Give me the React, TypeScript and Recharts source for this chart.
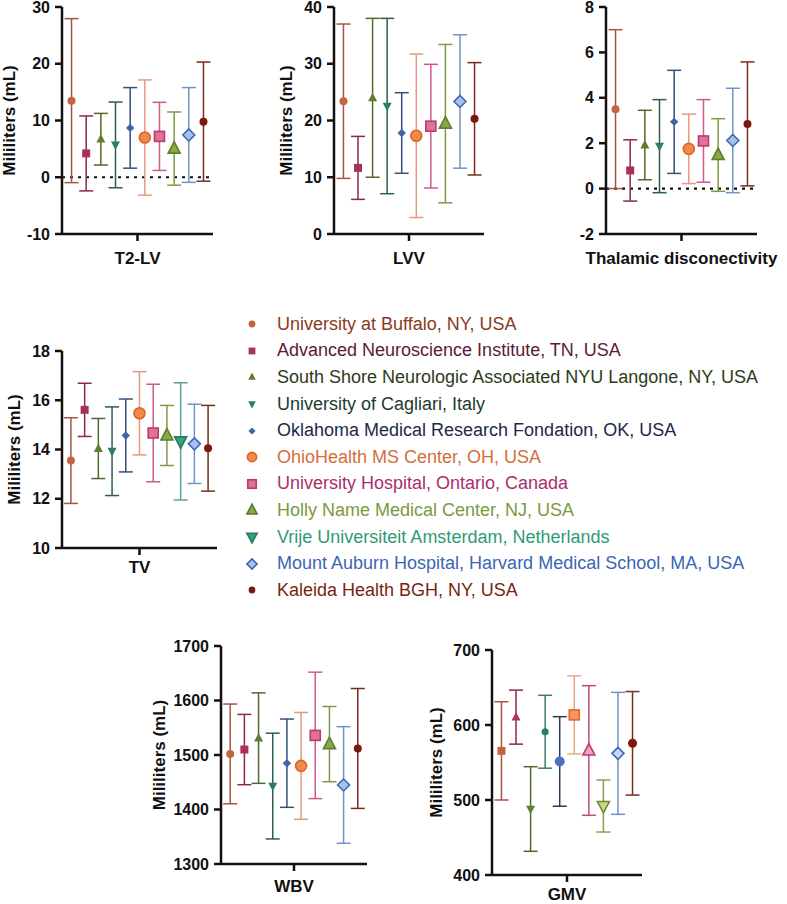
import React from 'react';
import { ScatterChart, Scatter, XAxis, YAxis, ErrorBar, ReferenceLine } from 'recharts';

const SITES = [
  'University at Buffalo, NY, USA',
  'Advanced Neuroscience Institute, TN, USA',
  'South Shore Neurologic Associated NYU Langone, NY, USA',
  'University of Cagliari, Italy',
  'Oklahoma Medical Research Fondation, OK, USA',
  'OhioHealth MS Center, OH, USA',
  'University Hospital, Ontario, Canada',
  'Holly Name Medical Center, NJ, USA',
  'Vrije Universiteit Amsterdam, Netherlands',
  'Mount Auburn Hospital, Harvard Medical School, MA, USA',
  'Kaleida Health BGH, NY, USA',
];

// mean and SD per site (null = site not shown in that panel)
const T2LV_MEAN = [13.5, 4.2, 6.7, 5.7, 8.7, 7.0, 7.2, 5.05, null, 7.45, 9.8];
const T2LV_SD = [14.45, 6.6, 4.55, 7.55, 7.1, 10.15, 6.0, 6.45, null, 8.35, 10.5];

const LVV_MEAN = [23.4, 11.65, 24.0, 22.55, 17.8, 17.3, 19.0, 19.45, null, 23.35, 20.3];
const LVV_SD = [13.6, 5.55, 14.0, 15.45, 7.1, 14.4, 10.9, 13.95, null, 11.75, 9.9];

const THAL_MEAN = [3.5, 0.8, 1.92, 1.87, 2.94, 1.75, 2.1, 1.48, null, 2.12, 2.85];
const THAL_SD = [3.5, 1.35, 1.53, 2.05, 2.27, 1.53, 1.82, 1.6, null, 2.3, 2.73];

const TV_MEAN = [13.55, 15.61, 14.04, 13.93, 14.57, 15.47, 14.67, 14.57, 14.33, 14.23, 14.05];
const TV_SD = [1.74, 1.08, 1.22, 1.8, 1.48, 1.69, 1.98, 1.22, 2.38, 1.61, 1.74];

const WBV_MEAN = [1502, 1510, 1531, 1443, 1485, 1480, 1536, 1520, null, 1445, 1512];
const WBV_SD = [91.5, 64.5, 83, 97, 81, 98, 116, 69, null, 107, 110];

const GMV_MEAN = [565.5, 610.5, 488, 591, 551.4, 613.5, 566, 492, 562.2, 575.6];
const GMV_SD = [65.5, 36, 56.4, 48.6, 59.7, 52, 86.4, 34.7, 81.3, 69];

type Mk = { shape: string; r: number; fill: string; stroke?: string; bar: string; text?: string };

const SITE_MARKS: Mk[] = [
  { shape: 'circle', r: 4, fill: '#c4643f', bar: '#a65542', text: '#8b3a22' },
  { shape: 'square', r: 4, fill: '#a8305c', bar: '#8a2a48', text: '#5c1a36' },
  { shape: 'tri', r: 4.5, fill: '#5f7f2e', bar: '#4f6a2a', text: '#2c3c18' },
  { shape: 'down', r: 4.5, fill: '#2b7d66', bar: '#2a5e4e', text: '#1c3c30' },
  { shape: 'diamond', r: 3.5, fill: '#3f64a8', bar: '#33507e', text: '#1c2a48' },
  { shape: 'circle', r: 5.5, fill: '#f08a48', stroke: '#d9652a', bar: '#e29a80', text: '#d36f3a' },
  { shape: 'square', r: 5, fill: '#e0709c', stroke: '#b83c6c', bar: '#cf5a88', text: '#a8306a' },
  { shape: 'tri', r: 6, fill: '#8aa84a', stroke: '#5d7e2a', bar: '#7f9a46', text: '#7a9a3e' },
  { shape: 'down', r: 6, fill: '#3aa084', stroke: '#257a62', bar: '#5aa494', text: '#2f9a78' },
  { shape: 'diamond', r: 5, fill: '#a8c0ea', stroke: '#3a68b8', bar: '#6f92c8', text: '#3a66b4' },
  { shape: 'circle', r: 4, fill: '#7a1a0e', bar: '#7a2a20', text: '#7a1f10' },
];

const GMV_MARKS: Mk[] = [
  { shape: 'square', r: 4, fill: '#c4643f', bar: '#a65542' },
  { shape: 'tri', r: 4.5, fill: '#b0305e', bar: '#8a2a48' },
  { shape: 'down', r: 4.5, fill: '#5f7f2e', bar: '#4f6a2a' },
  { shape: 'circle', r: 3.5, fill: '#2b7d66', bar: '#3a7e6a' },
  { shape: 'circle', r: 5, fill: '#4a72c0', bar: '#2a3a58' },
  { shape: 'square', r: 5, fill: '#f5955a', stroke: '#e0692a', bar: '#e8a888' },
  { shape: 'tri', r: 6, fill: '#f0a0c0', stroke: '#b83c6c', bar: '#c04a78' },
  { shape: 'down', r: 6, fill: '#c8d890', stroke: '#6d8a30', bar: '#8aa050' },
  { shape: 'diamond', r: 5, fill: '#c8d8f0', stroke: '#3a68b8', bar: '#6f92c8' },
  { shape: 'circle', r: 4.5, fill: '#7a1a0e', bar: '#7a2a20' },
];

const PANELS = [
  { name: 'T2-LV', mean: T2LV_MEAN, sd: T2LV_SD, marks: SITE_MARKS, domain: [-10, 30], ticks: [-10, 0, 10, 20, 30], zero: true,
    left: 62, top: 7, right: 213, bottom: 234, ylx: 9, gap: 11 },
  { name: 'LVV', mean: LVV_MEAN, sd: LVV_SD, marks: SITE_MARKS, domain: [0, 40], ticks: [0, 10, 20, 30, 40], zero: false,
    left: 334, top: 7, right: 484, bottom: 234, ylx: 286, gap: 11 },
  { name: 'Thalamic disconectivity', mean: THAL_MEAN, sd: THAL_SD, marks: SITE_MARKS, domain: [-2, 8], ticks: [-2, 0, 2, 4, 6, 8], zero: true,
    left: 606, top: 7, right: 757, bottom: 234, ylx: null, gap: 11 },
  { name: 'TV', mean: TV_MEAN, sd: TV_SD, marks: SITE_MARKS, domain: [10, 18], ticks: [10, 12, 14, 16, 18], zero: false,
    left: 62, top: 351, right: 217, bottom: 548, ylx: 14, gap: 6 },
  { name: 'WBV', mean: WBV_MEAN, sd: WBV_SD, marks: SITE_MARKS, domain: [1300, 1700], ticks: [1300, 1400, 1500, 1600, 1700], zero: false,
    left: 221, top: 646, right: 367, bottom: 864, ylx: 159, gap: 9 },
  { name: 'GMV', mean: GMV_MEAN, sd: GMV_SD, marks: GMV_MARKS, domain: [400, 700], ticks: [400, 500, 600, 700], zero: false,
    left: 492, top: 650, right: 642, bottom: 875, ylx: 436, gap: 6 },
];

const FONT = '"Liberation Sans", Arial, sans-serif';
const Y_W = 78;
const X_H = 40;
const R_M = 30;
const PAD = 0.65;

function Marker({ cx, cy, m }: { cx: number; cy: number; m: Mk }) {
  const { r, fill, stroke } = m;
  const common = { fill, stroke: stroke || 'none', strokeWidth: stroke ? 1.6 : 0 };
  if (m.shape === 'circle') return <circle cx={cx} cy={cy} r={r} {...common} />;
  if (m.shape === 'square') return <rect x={cx - r} y={cy - r} width={2 * r} height={2 * r} {...common} />;
  if (m.shape === 'tri')
    return <polygon points={`${cx},${cy - r * 1.15} ${cx + r},${cy + r * 0.75} ${cx - r},${cy + r * 0.75}`} {...common} />;
  if (m.shape === 'down')
    return <polygon points={`${cx},${cy + r * 1.15} ${cx + r},${cy - r * 0.75} ${cx - r},${cy - r * 0.75}`} {...common} />;
  return <polygon points={`${cx},${cy - r * 1.2} ${cx + r * 1.2},${cy} ${cx},${cy + r * 1.2} ${cx - r * 1.2},${cy}`} {...common} />;
}

function Panel({ p }: { p: (typeof PANELS)[number] }) {
  const pts = p.mean
    .map((m, i) => (m == null ? null : { y: m, sd: p.sd[i] as number, mark: p.marks[i] }))
    .filter((d): d is { y: number; sd: number; mark: Mk } => d !== null);
  const n = pts.length;
  const width = p.right - p.left + Y_W + R_M;
  const height = p.bottom - p.top + 10 + X_H;
  const axisStyle = { stroke: '#111', strokeWidth: 2.5 };
  const tickFont = { fill: '#111', fontSize: 16, fontWeight: 700, fontFamily: FONT };

  return (
    <div style={{ position: 'absolute', left: p.left - Y_W, top: p.top - 10 }}>
      <ScatterChart width={width} height={height} margin={{ top: 10, right: R_M, bottom: 0, left: 0 }}>
        <XAxis
          type="number"
          dataKey="x"
          domain={[-PAD, n - 1 + PAD]}
          ticks={[(n - 1) / 2]}
          allowDataOverflow
          height={X_H}
          axisLine={axisStyle}
          tickLine={axisStyle}
          tickSize={7}
          tickMargin={p.gap}
          tick={(t: any) => (
            <text x={t.x} y={t.y} dy="0.71em" textAnchor="middle" fill="#111" fontSize={17} fontWeight={700} fontFamily={FONT}>
              {p.name}
            </text>
          )}
        />
        <YAxis
          type="number"
          dataKey="y"
          domain={p.domain}
          ticks={p.ticks}
          allowDataOverflow
          width={Y_W}
          axisLine={axisStyle}
          tickLine={axisStyle}
          tickSize={7}
          tickMargin={5}
          tick={tickFont}
          label={
            p.ylx == null
              ? undefined
              : {
                  value: 'Mililiters (mL)',
                  angle: -90,
                  position: 'center',
                  dx: p.ylx - (p.left - Y_W / 2),
                  style: { fill: '#111', fontSize: 17, fontWeight: 700, fontFamily: FONT },
                }
          }
        />
        {p.zero && <ReferenceLine y={0} stroke="#111" strokeWidth={2.2} strokeDasharray="3 5" />}
        {pts.map((d, j) => (
          <Scatter
            key={j}
            data={[{ x: j, y: d.y, sd: d.sd }]}
            isAnimationActive={false}
            shape={(props: any) => <Marker cx={props.cx} cy={props.cy} m={d.mark} />}
          >
            <ErrorBar dataKey="sd" direction="y" width={7} stroke={d.mark.bar} strokeWidth={1.5} isAnimationActive={false} />
          </Scatter>
        ))}
      </ScatterChart>
    </div>
  );
}

function SiteLegend() {
  return (
    <div style={{ position: 'absolute', left: 240, top: 311, fontFamily: FONT, fontSize: 18 }}>
      {SITES.map((s, i) => (
        <div key={s} style={{ display: 'flex', alignItems: 'center', height: 26.6, whiteSpace: 'nowrap' }}>
          <svg width={26} height={20} style={{ marginRight: 11 }}>
            <Marker cx={12} cy={10} m={{ ...SITE_MARKS[i], r: SITE_MARKS[i].r * 0.85 }} />
          </svg>
          <span style={{ color: SITE_MARKS[i].text }}>{s}</span>
        </div>
      ))}
    </div>
  );
}

export default function App() {
  return (
    <div style={{ position: 'absolute', left: 0, top: 0, width: 787, height: 904, overflow: 'hidden', background: '#fff', fontFamily: FONT }}>
      {PANELS.map((p) => (
        <Panel key={p.name} p={p} />
      ))}
      <SiteLegend />
    </div>
  );
}
